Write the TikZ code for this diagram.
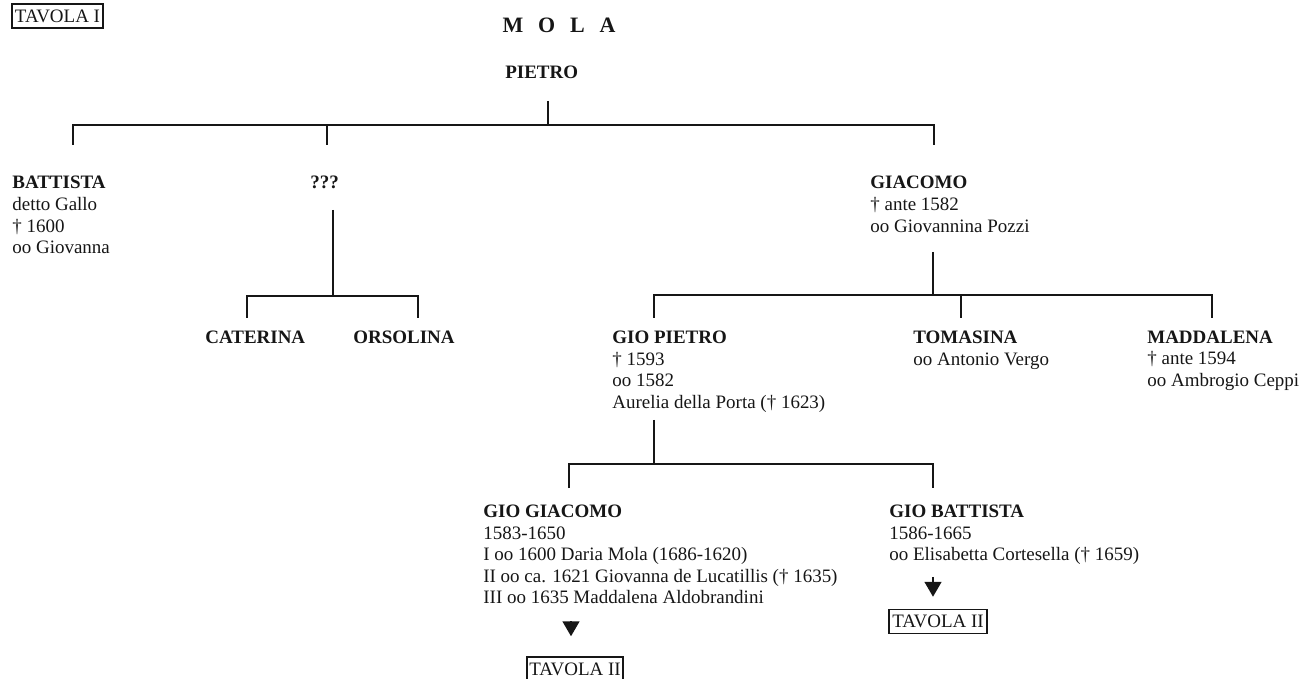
\documentclass[tikz,border=0pt]{standalone}
\usepackage{fontspec}
\setmainfont{Liberation Serif}
\newfontfamily\molatitle[WordSpace=2.7]{Liberation Serif}
\usetikzlibrary{arrows.meta}
\definecolor{MolaInk}{RGB}{22,22,22}
\tikzset{
  mola/person/.style={
    anchor=north west,
    inner sep=0pt,
    align=left,
    text=MolaInk,
    font=\fontsize{10.8}{12.3}\selectfont
  },
  mola/tavola/.style={
    draw=MolaInk,
    line width=0.85pt,
    inner xsep=0.6pt,
    inner ysep=0pt,
    minimum height=0.48cm,
    text=MolaInk,
    font=\fontsize{10.8}{12.3}\selectfont
  },
  mola/line/.style={draw=MolaInk, line width=0.9pt},
  mola/arrow/.style={-{Triangle[length=0.3cm,width=0.34cm]}, draw=MolaInk, line width=0.9pt}
}

\begin{document}
\begin{tikzpicture}[x=1cm,y=1cm]
  \useasboundingbox (0,0) rectangle (26.02,-13.58);
  % titles
  \node[mola/tavola,minimum width=1.82cm] (tav1) at (1.15,-0.32) {TAVOLA I};
  \node[anchor=base,inner sep=0pt,text=MolaInk,font=\molatitle\fontsize{12.5}{14}\selectfont\bfseries] (mola) at (11.18,-0.66) {M O L A};
  \node[mola/person,font=\fontsize{10.8}{12.3}\selectfont\bfseries] (pietro) at (10.10,-1.31) {PIETRO};

  % first generation
  \node[mola/person] (battista) at (0.24,-3.52) {\textbf{BATTISTA}\\detto Gallo\\† 1600\\oo Giovanna};
  \node[mola/person] (ignoto) at (6.20,-3.52) {\textbf{???}};
  \node[mola/person] (giacomo) at (17.40,-3.52) {\textbf{GIACOMO}\\† ante 1582\\oo Giovannina Pozzi};

  % second generation
  \node[mola/person] (caterina) at (4.10,-6.61) {\textbf{CATERINA}};
  \node[mola/person] (orsolina) at (7.06,-6.61) {\textbf{ORSOLINA}};
  \node[mola/person] (giopietro) at (12.24,-6.61) {\textbf{GIO PIETRO}\\† 1593\\oo 1582\\Aurelia della Porta († 1623)};
  \node[mola/person] (tomasina) at (18.26,-6.61) {\textbf{TOMASINA}\\oo Antonio Vergo};
  \node[mola/person] (maddalena) at (22.94,-6.61) {\textbf{MADDALENA}\\† ante 1594\\oo Ambrogio Ceppi};

  % third generation
  \node[mola/person] (giogiacomo) at (9.66,-10.09) {\textbf{GIO GIACOMO}\\1583-1650\\I oo 1600 Daria Mola (1686-1620)\\II oo ca. 1621 Giovanna de Lucatillis († 1635)\\III oo 1635 Maddalena Aldobrandini};
  \node[mola/person] (giobattista) at (17.78,-10.09) {\textbf{GIO BATTISTA}\\1586-1665\\oo Elisabetta Cortesella († 1659)};
  \node[mola/tavola,minimum width=1.92cm] (tav2a) at (11.50,-13.38) {TAVOLA II};
  \node[mola/tavola,minimum width=1.96cm] (tav2b) at (18.76,-12.43) {TAVOLA II};

  % junctions
  \coordinate (pietro-d) at (10.96,-2.02);
  \coordinate (bar1) at (10.96,-2.50);
  \coordinate (battista-u) at (1.46,-2.90);
  \coordinate (ignoto-u) at (6.54,-2.90);
  \coordinate (giacomo-u) at (18.68,-2.90);
  \coordinate (ignoto-d) at (6.66,-4.20);
  \coordinate (bar2) at (6.66,-5.92);
  \coordinate (caterina-u) at (4.94,-6.36);
  \coordinate (orsolina-u) at (8.36,-6.36);
  \coordinate (giacomo-d) at (18.66,-5.04);
  \coordinate (bar3) at (18.66,-5.90);
  \coordinate (giopietro-u) at (13.08,-6.36);
  \coordinate (tomasina-u) at (19.22,-6.36);
  \coordinate (maddalena-u) at (24.24,-6.36);
  \coordinate (giopietro-d) at (13.08,-8.40);
  \coordinate (bar4) at (13.08,-9.28);
  \coordinate (giogiacomo-u) at (11.38,-9.76);
  \coordinate (giobattista-u) at (18.66,-9.76);

  \draw[mola/line] (pietro-d) -- (bar1);
  \draw[mola/line] (battista-u) |- (bar1) -| (giacomo-u);
  \draw[mola/line] (ignoto-u) -- (ignoto-u |- bar1);
  \draw[mola/line] (ignoto-d) -- (bar2);
  \draw[mola/line] (caterina-u) |- (bar2) -| (orsolina-u);
  \draw[mola/line] (giacomo-d) -- (bar3);
  \draw[mola/line] (giopietro-u) |- (bar3) -| (maddalena-u);
  \draw[mola/line] (tomasina-u) -- (tomasina-u |- bar3);
  \draw[mola/line] (giopietro-d) -- (bar4);
  \draw[mola/line] (giogiacomo-u) |- (bar4) -| (giobattista-u);

  % rimandi
  \draw[mola/arrow] ([xshift=-0.08cm,yshift=0.7cm]tav2a.north) -- ([xshift=-0.08cm,yshift=0.4cm]tav2a.north);
  \draw[mola/arrow] ([xshift=-0.1cm,yshift=0.64cm]tav2b.north) -- ([xshift=-0.1cm,yshift=0.24cm]tav2b.north);
\end{tikzpicture}
\end{document}
